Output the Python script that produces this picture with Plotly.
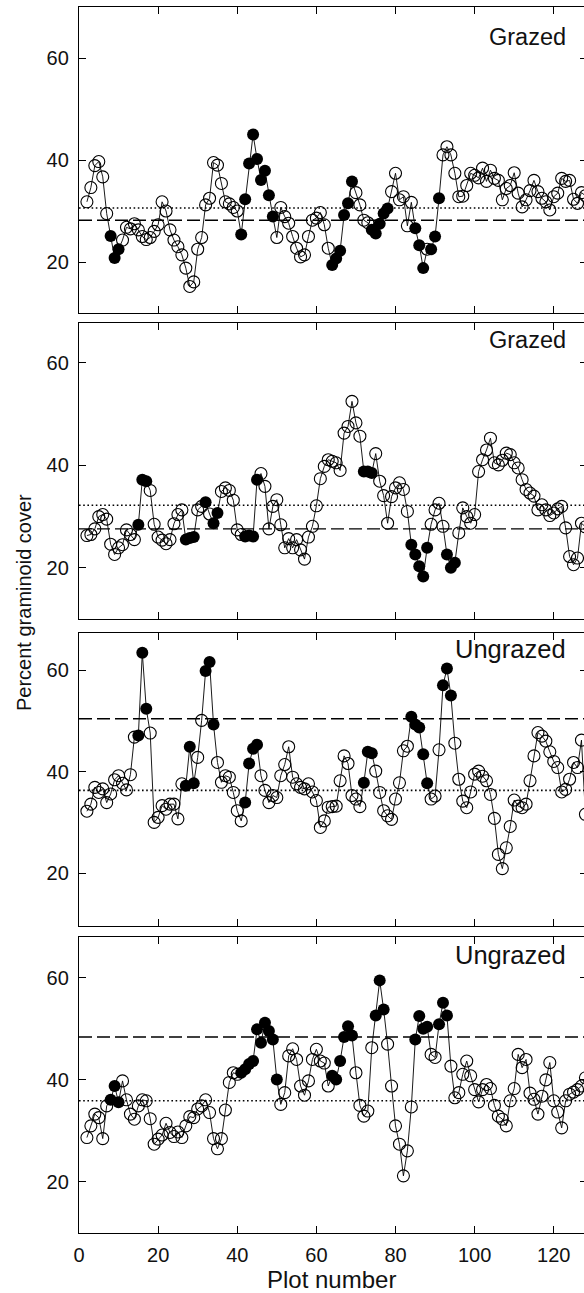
import plotly.graph_objects as go

# ---------------- data ----------------
first_plot = 2
tick_vals_x = [0, 20, 40, 60, 80, 100, 120]
tick_vals_y = [20, 40, 60]
panel_labels = ["Grazed", "Grazed", "Ungrazed", "Ungrazed"]

cover_1 = [31.8, 34.6, 38.9, 39.7, 36.7, 29.5, 25.1, 20.8, 22.5, 24.3,
           26.8, 26.5, 27.5, 26.3, 25.0, 24.4, 24.8, 26.0, 27.3, 31.8,
           30.0, 26.3, 24.3, 23.0, 21.4, 18.8, 15.2, 16.1, 22.5, 24.8,
           31.2, 32.5, 39.5, 39.0, 35.4, 31.8, 31.4, 30.7, 30.0, 25.4,
           32.3, 39.3, 45.0, 40.2, 36.1, 37.9, 33.1, 28.9, 24.8, 30.7,
           28.9, 27.6, 25.0, 22.7, 21.0, 21.4, 25.0, 28.2, 28.6, 29.7,
           27.3, 22.7, 19.4, 20.7, 22.2, 29.2, 31.5, 35.8, 33.6, 31.2,
           28.2, 27.7, 26.3, 25.6, 27.5, 29.5, 30.5, 33.8, 37.4, 32.2,
           32.8, 27.1, 31.7, 26.6, 23.3, 18.8, 22.5, 22.5, 25.0, 32.5,
           41.0, 42.6, 41.0, 37.4, 32.8, 32.9, 35.0, 37.4, 37.0, 36.5,
           38.4, 35.8, 38.0, 36.4, 36.0, 32.2, 34.4, 35.0, 37.5, 33.5,
           30.8, 32.2, 34.0, 36.0, 33.8, 32.5, 31.8, 30.2, 32.8, 33.5,
           36.4, 35.8, 36.0, 32.3, 31.5, 33.6, 33.0]
filled_1 = [8, 9, 10, 41, 42, 43, 44, 45, 46, 47, 48, 49, 64, 65, 66, 67, 68, 69,
            74, 75, 76, 77, 78, 85, 86, 87, 89, 90, 91]

cover_2 = [26.3, 26.5, 27.6, 30.0, 30.4, 29.5, 24.6, 22.6, 23.9, 24.5,
           27.4, 26.5, 25.5, 28.4, 37.2, 36.9, 35.1, 28.5, 26.0, 25.4,
           24.7, 25.5, 28.6, 30.4, 31.3, 25.5, 25.8, 26.0, 31.3, 32.0,
           32.8, 30.5, 28.7, 30.7, 34.9, 35.6, 35.1, 33.2, 27.4, 26.5,
           26.1, 26.3, 26.1, 37.2, 38.4, 35.9, 27.6, 32.0, 33.3, 28.4,
           23.9, 25.7, 23.9, 25.5, 23.5, 21.7, 26.0, 28.1, 32.1, 37.4,
           39.8, 41.1, 40.8, 40.5, 39.0, 46.3, 47.6, 52.5, 48.3, 45.7,
           38.8, 38.8, 38.5, 42.3, 36.9, 34.1, 28.7, 33.9, 35.6, 36.6,
           35.3, 31.0, 24.5, 22.6, 20.3, 18.3, 23.9, 28.5, 31.3, 32.6,
           28.1, 22.6, 20.0, 21.0, 26.8, 31.7, 30.0, 28.7, 30.4, 38.8,
           41.1, 43.0, 45.3, 40.5, 40.1, 41.0, 42.4, 42.1, 40.5, 39.5,
           37.2, 35.3, 34.6, 34.0, 31.3, 32.3, 31.3, 30.2, 30.7, 31.5,
           32.0, 27.8, 22.2, 20.6, 21.9, 28.7, 28.0]
filled_2 = [15, 16, 17, 27, 28, 29, 32, 34, 35, 42, 43, 44, 45, 72, 73, 74,
            84, 85, 86, 87, 88, 93, 94, 95]

cover_3 = [32.2, 33.6, 36.9, 35.9, 36.6, 33.9, 35.6, 38.4, 39.2, 37.7,
           36.4, 39.4, 46.8, 47.1, 63.4, 52.4, 47.6, 30.0, 31.0, 33.3,
           32.6, 33.6, 33.6, 30.7, 37.6, 37.2, 44.9, 37.7, 42.8, 50.1,
           59.8, 61.6, 49.3, 41.8, 37.9, 39.2, 38.9, 35.9, 32.3, 30.3,
           33.9, 41.6, 44.5, 45.3, 39.2, 36.3, 33.9, 35.3, 34.9, 39.2,
           41.4, 44.9, 38.9, 37.6, 36.9, 36.6, 37.6, 36.0, 34.3, 29.0,
           30.3, 33.0, 33.1, 33.2, 38.2, 43.1, 41.6, 35.3, 34.6, 33.1,
           37.8, 43.9, 43.6, 40.1, 35.9, 32.3, 31.3, 30.6, 34.6, 37.8,
           44.1, 45.0, 50.8, 49.3, 48.7, 43.4, 37.7, 34.6, 35.2, 44.3,
           57.0, 60.3, 55.0, 45.6, 38.5, 34.2, 32.9, 36.0, 39.5, 40.1,
           39.1, 38.2, 35.5, 30.8, 23.7, 20.9, 25.0, 29.2, 34.4, 33.2,
           32.9, 33.6, 38.2, 43.1, 47.7, 47.0, 46.0, 43.9, 42.0, 40.8,
           36.0, 36.5, 38.5, 41.8, 40.8, 46.2, 31.6]
filled_3 = [15, 16, 17, 27, 28, 29, 32, 33, 34, 42, 43, 44, 45, 72, 73, 74,
            84, 85, 86, 87, 88, 92, 93, 94]

cover_4 = [28.7, 31.0, 33.3, 32.6, 28.5, 34.9, 36.1, 38.8, 35.6, 39.8,
           36.1, 33.3, 32.3, 34.9, 36.1, 35.9, 32.4, 27.4, 28.4, 29.2,
           31.5, 29.7, 28.9, 29.8, 28.7, 31.0, 32.8, 32.6, 34.3, 34.9,
           36.1, 33.6, 28.5, 26.5, 28.5, 34.1, 39.5, 41.4, 41.1, 41.4,
           42.1, 43.1, 43.7, 49.9, 47.3, 51.2, 49.6, 47.9, 40.1, 35.2,
           37.5, 44.7, 46.1, 44.0, 38.8, 37.0, 39.8, 44.0, 46.0, 43.7,
           43.3, 38.8, 40.8, 40.1, 43.7, 48.4, 50.5, 48.7, 41.4, 35.0,
           32.9, 33.9, 46.3, 52.6, 59.5, 53.8, 47.0, 38.8, 31.0, 27.4,
           21.2, 26.1, 34.7, 47.9, 52.5, 50.0, 50.4, 45.0, 44.4, 50.9,
           55.1, 52.6, 42.7, 36.5, 37.5, 41.1, 43.7, 40.8, 38.1, 35.7,
           38.1, 39.1, 38.3, 35.0, 32.9, 32.3, 31.0, 35.9, 38.3, 45.0,
           42.4, 44.0, 37.4, 36.2, 33.3, 36.8, 40.0, 43.4, 35.9, 33.7,
           30.6, 35.9, 37.2, 37.6, 38.1, 38.8, 40.4]
filled_4 = [8, 9, 10, 41, 42, 43, 44, 45, 46, 47, 48, 49, 50, 64, 65, 66, 67, 68, 69,
            75, 76, 77, 85, 86, 87, 88, 91, 92, 93]

dashed_levels = [28.2, 27.6, 50.4, 48.4]
dotted_levels = [30.6, 32.2, 36.3, 35.9]

y_ranges = [[10, 70], [10, 67.8], [9.6, 67.3], [10, 68]]
x_range = [0, 128.4]

# ---------------- layout geometry (pixels) ----------------
W, H = 587, 1293          # page is 584 wide: right spine falls just outside
L = 79
PW = W - L
panel_px = [(7, 313), (323, 619), (633, 926), (937, 1233)]
label_px = [37, 340, 649, 955]
label_size = [23.5, 23.5, 25.5, 25.5]
FONT = "Liberation Sans, Arial, Helvetica, sans-serif"
INK = "#111"

covers = [cover_1, cover_2, cover_3, cover_4]
filleds = [filled_1, filled_2, filled_3, filled_4]

fig = go.Figure()
layout = dict(
    width=W, height=H,
    margin=dict(l=L, r=0, t=0, b=0),
    paper_bgcolor="white", plot_bgcolor="white",
    showlegend=False,
    font=dict(family=FONT, size=20, color=INK),
)
annotations = []

for i in range(4):
    n = i + 1
    xa = "x" if n == 1 else f"x{n}"
    ya = "y" if n == 1 else f"y{n}"
    vals = covers[i]
    xs = list(range(first_plot, first_plot + len(vals)))
    fset = set(filleds[i])
    ox = [x for x, v in zip(xs, vals) if x not in fset]
    oy = [v for x, v in zip(xs, vals) if x not in fset]
    fx = [x for x, v in zip(xs, vals) if x in fset]
    fy = [v for x, v in zip(xs, vals) if x in fset]

    # reference lines
    fig.add_trace(go.Scatter(x=[0, 130], y=[dashed_levels[i]] * 2, mode="lines",
                             line=dict(color="black", width=1.4, dash="13px,5px"),
                             xaxis=xa, yaxis=ya, hoverinfo="skip"))
    fig.add_trace(go.Scatter(x=[0, 130], y=[dotted_levels[i]] * 2, mode="lines",
                             line=dict(color="black", width=1.6, dash="1.6px,2.6px"),
                             xaxis=xa, yaxis=ya, hoverinfo="skip"))
    # connecting line
    fig.add_trace(go.Scatter(x=xs, y=vals, mode="lines",
                             line=dict(color="black", width=0.9),
                             xaxis=xa, yaxis=ya))
    # open circles
    fig.add_trace(go.Scatter(x=ox, y=oy, mode="markers",
                             marker=dict(symbol="circle-open", size=12,
                                         color="black", line=dict(width=1.1, color="black")),
                             xaxis=xa, yaxis=ya))
    # filled circles
    fig.add_trace(go.Scatter(x=fx, y=fy, mode="markers",
                             marker=dict(symbol="circle", size=12, color="black",
                                         line=dict(width=0)),
                             xaxis=xa, yaxis=ya))

    top, bot = panel_px[i]
    dom = [1 - bot / H, 1 - top / H]
    xkey = "xaxis" if n == 1 else f"xaxis{n}"
    ykey = "yaxis" if n == 1 else f"yaxis{n}"
    layout[xkey] = dict(
        domain=[0, 1], anchor=ya, range=x_range,
        tickvals=tick_vals_x, ticks="inside", ticklen=7, tickwidth=1.2,
        tickcolor="black", showline=True, linecolor="black", linewidth=1.4,
        mirror="ticks", showgrid=False, zeroline=False,
        showticklabels=(n == 4), ticklabelstandoff=4,
        tickfont=dict(family=FONT, size=20, color=INK),
    )
    layout[ykey] = dict(
        domain=dom, anchor=xa, range=y_ranges[i],
        tickvals=tick_vals_y, ticks="inside", ticklen=7, tickwidth=1.2,
        tickcolor="black", showline=True, linecolor="black", linewidth=1.4,
        mirror="ticks", showgrid=False, zeroline=False,
        ticklabelstandoff=5,
        tickfont=dict(family=FONT, size=20, color=INK),
    )
    annotations.append(dict(
        text=panel_labels[i], xref="paper", yref="paper",
        x=(568 - L) / PW, y=1 - label_px[i] / H,
        xanchor="right", yanchor="middle", showarrow=False,
        font=dict(family=FONT, size=label_size[i], color=INK),
    ))

annotations.append(dict(
    text="Percent graminoid cover", xref="paper", yref="paper",
    x=(24 - L) / PW, y=1 - 603 / H, textangle=-90,
    xanchor="center", yanchor="middle", showarrow=False,
    font=dict(family=FONT, size=20, color=INK),
))
annotations.append(dict(
    text="Plot number", xref="paper", yref="paper",
    x=(331 - L) / PW, y=1 - 1279 / H,
    xanchor="center", yanchor="middle", showarrow=False,
    font=dict(family=FONT, size=24, color=INK),
))
layout["annotations"] = annotations
fig.update_layout(**layout)

fig.write_html(
    "out.html",
    config={"displayModeBar": False},
    post_script="document.body.style.margin='0px';document.body.style.overflow='hidden';",
)
